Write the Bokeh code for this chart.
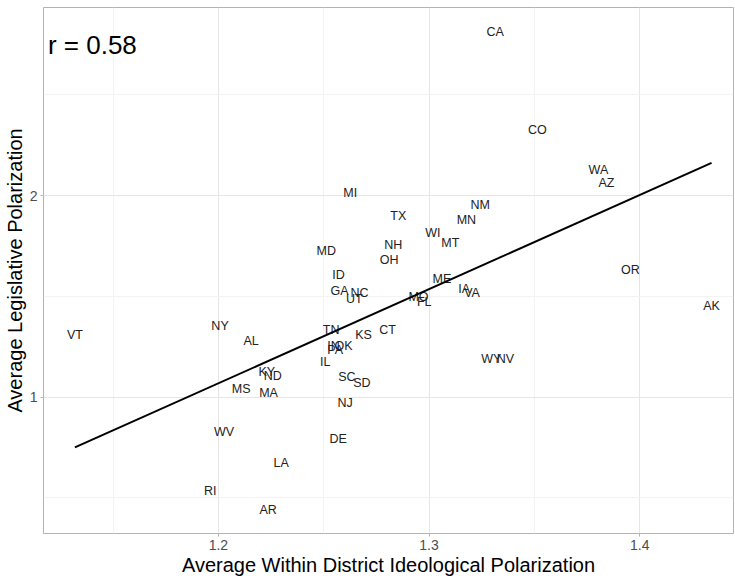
import numpy as np
from bokeh.plotting import figure
from bokeh.models import ColumnDataSource, Range1d, FixedTicker
from bokeh.core.properties import value
from bokeh.embed import file_html
from bokeh.resources import INLINE

states = ["CA", "CO", "WA", "AZ", "MI", "TX", "NM", "MN", "WI", "MT", "NH", "OH",
          "MD", "ID", "GA", "NC", "UT", "ME", "IA", "VA", "MO", "FL", "OR", "AK",
          "VT", "NY", "AL", "TN", "KS", "CT", "IN", "OK", "PA", "IL", "WY", "NV",
          "KY", "ND", "MS", "MA", "SC", "SD", "NJ", "WV", "DE", "LA", "RI", "AR"]
district_polar = [1.3314, 1.3514, 1.3804, 1.3842, 1.2626, 1.2854, 1.3243, 1.3177,
                  1.3018, 1.3101, 1.2830, 1.2811, 1.2512, 1.2570, 1.2575, 1.2670,
                  1.2645, 1.3061, 1.3167, 1.3204, 1.2950, 1.2977, 1.3956, 1.4341,
                  1.1319, 1.2008, 1.2155, 1.2535, 1.2689, 1.2803, 1.2546, 1.2594,
                  1.2554, 1.2507, 1.3295, 1.3362, 1.2230, 1.2258, 1.2108, 1.2238,
                  1.2610, 1.2681, 1.2602, 1.2027, 1.2569, 1.2298, 1.1961, 1.2236]
legis_polar = [2.810, 2.325, 2.126, 2.062, 2.012, 1.898, 1.953, 1.879, 1.816, 1.766,
               1.755, 1.680, 1.725, 1.606, 1.527, 1.518, 1.486, 1.586, 1.535, 1.518,
               1.496, 1.471, 1.631, 1.452, 1.309, 1.353, 1.279, 1.331, 1.309, 1.333,
               1.254, 1.254, 1.234, 1.176, 1.190, 1.190, 1.122, 1.106, 1.041, 1.020,
               1.099, 1.072, 0.970, 0.828, 0.793, 0.674, 0.536, 0.441]

x_ticks = [1.2, 1.3, 1.4]
x_minor = [1.15, 1.25, 1.35]
y_ticks = [1, 2]
y_minor = [0.5, 1.5, 2.5]
r_label = "r = 0.58"

x = np.array(district_polar)
y = np.array(legis_polar)
slope, intercept = np.polyfit(x, y, 1)
fit_x = [x.min(), x.max()]
fit_y = [intercept + slope * v for v in fit_x]

FONT = "Liberation Sans"

p = figure(width=735, height=578, output_backend="svg", toolbar_location=None,
           x_range=Range1d(1.117, 1.4445), y_range=Range1d(0.3226, 2.934),
           min_border_left=43, min_border_right=2, min_border_top=7,
           min_border_bottom=44)
p.background_fill_color = "white"
p.border_fill_color = "white"
p.outline_line_color = "#B3B3B3"
p.outline_line_width = 1

p.xaxis.ticker = FixedTicker(ticks=x_ticks, minor_ticks=x_minor)
p.yaxis.ticker = FixedTicker(ticks=y_ticks, minor_ticks=y_minor)
for ax in (p.xaxis, p.yaxis):
    ax.axis_line_color = None
    ax.major_tick_line_color = "#B3B3B3"
    ax.major_tick_out = 3
    ax.major_tick_in = 0
    ax.minor_tick_line_color = None
    ax.major_label_text_font = FONT
    ax.major_label_text_font_size = "14px"
    ax.major_label_text_color = "#4D4D4D"
    ax.major_label_standoff = 2
    ax.axis_label_text_font = FONT
    ax.axis_label_text_font_size = "20px"
    ax.axis_label_text_font_style = "normal"
    ax.axis_label_text_color = "black"
    ax.axis_label_standoff = 1
p.xaxis.axis_label = "Average Within District Ideological Polarization"
p.yaxis.axis_label = "Average Legislative Polarization"

for g in (p.xgrid, p.ygrid):
    g.grid_line_color = "#E6E6E6"
    g.grid_line_width = 1
    g.minor_grid_line_color = "#F3F3F3"
    g.minor_grid_line_width = 1

src = ColumnDataSource(dict(x=district_polar, y=legis_polar, s=states))
p.text(x="x", y="y", text="s", source=src, text_align="center",
       text_baseline="middle", text_font=value(FONT), text_font_size="12.5px",
       text_color="#222222")

p.line(fit_x, fit_y, line_color="black", line_width=2)

p.text(x=[1.1191], y=[2.746], text=[r_label], text_align="left",
       text_baseline="middle", text_font=value(FONT), text_font_size="26px",
       text_color="black")

open("out.html", "w").write(file_html(p, INLINE))
